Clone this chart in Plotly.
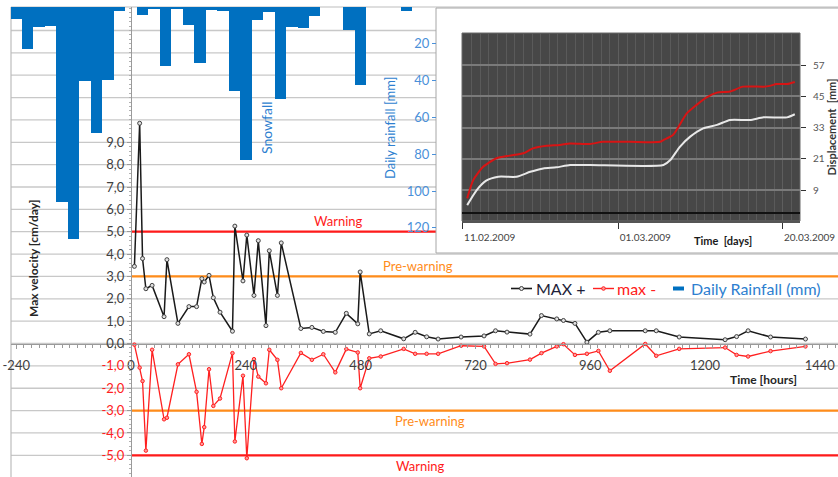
import plotly.graph_objects as go

# ---------------- data ----------------
hours = [7, 18, 24, 31, 44, 69, 75, 98, 121, 137, 148, 153, 163, 172, 186, 212, 217, 234, 242, 257,
         266, 282, 289, 306, 314, 355, 378, 402, 427, 450, 474, 479, 498, 522, 570, 594, 618, 642, 690, 738,
         762, 786, 834, 858, 890, 904, 928, 953, 977, 1001, 1075, 1098, 1146, 1242, 1266, 1290, 1337, 1410]
max_plus = [3.45, 9.85, 3.8, 2.45, 2.6, 1.2, 3.75, 0.9, 1.65, 1.65, 2.9, 2.75, 3.05, 2.05, 1.4, 0.55, 5.25, 2.8, 4.85, 2.15,
            4.6, 0.8, 4.15, 2.15, 4.5, 0.67, 0.72, 0.54, 0.5, 1.35, 0.88, 3.2, 0.43, 0.57, 0.21, 0.5, 0.3, 0.2, 0.29, 0.34,
            0.57, 0.51, 0.42, 1.25, 1.1, 1.03, 0.9, 0.06, 0.5, 0.57, 0.57, 0.57, 0.29, 0.17, 0.31, 0.57, 0.29, 0.2]
max_minus = [-0.05, -1.08, -1.68, -4.79, -0.28, -3.39, -3.32, -0.93, -0.48, -2.16, -4.49, -3.74, -1.15, -2.79, -2.46, -0.43, -4.38, -1.44, -5.13, -0.7,
             -1.48, -1.78, -0.28, -0.73, -2.0, -0.42, -0.73, -0.48, -1.29, -0.25, -0.4, -2.0, -0.66, -0.58, -0.24, -0.46, -0.46, -0.46, -0.1, -0.13,
             -0.91, -0.88, -0.72, -0.43, -0.13, -0.03, -0.51, -0.46, -0.33, -1.22, -0.02, -0.55, -0.24, -0.18, -0.51, -0.58, -0.34, -0.13]

rain_hours = [-240, -216, -192, -168, -144, -120, -96, -72, -48, -24, 0, 24, 48, 72, 96, 120, 144, 168, 192,
              216, 240, 264, 288, 312, 336, 360, 384, 408, 432, 456, 480, 504, 528, 552, 576, 600, 624]
rain_mm = [6.4, 22.8, 11.1, 10.5, 106, 126, 40.4, 68.5, 39.9, 2.0, 0, 4.2, 1.0, 31.8, 1.0, 9.6, 30.5, 1.8, 2.4,
           45.5, 83, 6.9, 2.9, 49.9, 11.1, 11.4, 4.7, 0, 0, 12.3, 42.6, 0, 0, 0, 2.0, 0, 0]

x_tickvals = [-240, 0, 240, 480, 720, 960, 1200, 1440]
vel_ticks = [-5, -4, -3, -2, -1, 0, 1, 2, 3, 4, 5, 6, 7, 8, 9]
rain_ticks = [20, 40, 60, 80, 100, 120]
grid_levels = list(range(-6, 15))

warning_level = 5.0
prewarning_level = 3.0

# inset (displacement)
days_red = [0.5, 1.2, 2.35, 3.9, 5.4, 7.0, 8.1, 9.7, 11.2, 12.4, 14.7, 16.2, 19.3, 22.8, 23.2, 24.3, 25.9, 27.0,
            28.2, 29.4, 30.9, 32.4, 34.8, 35.5, 36.3, 37.5, 38.4]
disp_red = [5.8, 12.8, 17.9, 21.2, 22.2, 23.1, 25.0, 26.0, 26.3, 26.9, 26.7, 27.5, 27.5, 27.5, 28.2, 30.1, 38.4, 41.6,
            44.6, 46.4, 46.8, 48.7, 48.7, 49.0, 49.7, 49.7, 50.5]
days_white = [0.5, 1.6, 2.7, 4.1, 6.2, 7.8, 9.3, 10.8, 12.4, 14.7, 23.2, 24.0, 25.1, 26.3, 27.8, 29.4, 30.9, 33.2,
              34.8, 37.5, 38.4]
disp_white = [3.2, 9.0, 12.6, 14.1, 14.1, 16.0, 17.3, 17.7, 18.6, 18.6, 18.6, 20.5, 25.6, 29.5, 32.7, 34.0, 35.9, 35.9,
              36.9, 36.9, 38.1]
inset_tickvals = [0, 18, 37]
inset_ticktext = ["11.02.2009", "01.03.2009", "20.03.2009"]
disp_ticks = [9, 21, 33, 45, 57]

# ---------------- layout geometry (pixels) ----------------
W, H = 838, 477
ML, MT = 11, 7
PW, PH = W - ML, H - MT


def fx(px):
    return (px - ML) / PW


def fy(py):
    return (H - py) / PH


XR = [-251, 1478]
YR = [-5.97, 15.05]
Y2R = [255.4, 0]
x_axis_pos = (0 - YR[0]) / (YR[1] - YR[0])
y_axis_pos = (0 - XR[0]) / (XR[1] - XR[0])

FONT = "Lato"
RED = "#ff1a1a"
ORANGE = "#ff8c1a"
BLUE = "#0070c0"
LBLUE = "#4a90d9"
TXTBLUE = "#2e7fd0"

fig = go.Figure()

# rainfall bars
fig.add_trace(go.Bar(x=rain_hours, y=rain_mm, width=24, marker=dict(color=BLUE, line=dict(width=0)),
                     xaxis="x", yaxis="y2", showlegend=False, name="Daily Rainfall (mm)"))

# velocity series
fig.add_trace(go.Scatter(x=hours, y=max_plus, mode="lines+markers", name="MAX +",
                         line=dict(color="#1a1a1a", width=1.5),
                         marker=dict(symbol="circle", size=4, color="#e0e0e0", line=dict(color="#404040", width=1)),
                         xaxis="x", yaxis="y", showlegend=False))
fig.add_trace(go.Scatter(x=hours, y=max_minus, mode="lines+markers", name="max -",
                         line=dict(color="#ff2020", width=1.3),
                         marker=dict(symbol="circle", size=3.5, color="#ff9a9a", line=dict(color="#ff2020", width=1)),
                         xaxis="x", yaxis="y", showlegend=False))

# inset curves
fig.add_trace(go.Scatter(x=days_red, y=disp_red, mode="lines", line=dict(color="#d81414", width=2, shape="spline", smoothing=0.6),
                         xaxis="x3", yaxis="y3", showlegend=False))
fig.add_trace(go.Scatter(x=days_white, y=disp_white, mode="lines", line=dict(color="#e8e8e8", width=2, shape="spline", smoothing=0.6),
                         xaxis="x3", yaxis="y3", showlegend=False))

shapes = []
# horizontal grid
for g in grid_levels:
    shapes.append(dict(type="line", xref="paper", yref="y", x0=0, x1=1, y0=g, y1=g,
                       line=dict(color="#c8c8c8", width=1.3), layer="below"))
# plot border (left & top)
shapes.append(dict(type="line", xref="paper", yref="paper", x0=0, x1=0, y0=0, y1=1,
                   line=dict(color="#bdbdbd", width=1.2), layer="below"))
shapes.append(dict(type="line", xref="paper", yref="paper", x0=0, x1=1, y0=1, y1=1,
                   line=dict(color="#bdbdbd", width=1.2), layer="below"))
# thresholds
for lvl, col in [(warning_level, RED), (prewarning_level, ORANGE), (-prewarning_level, ORANGE), (-warning_level, RED)]:
    shapes.append(dict(type="line", xref="paper", yref="y", x0=y_axis_pos, x1=1, y0=lvl, y1=lvl,
                       line=dict(color=col, width=2.2), layer="below"))
# inset white box
shapes.append(dict(type="rect", xref="paper", yref="paper", x0=fx(436), x1=fx(845), y0=fy(253), y1=fy(8),
                   fillcolor="white", line=dict(color="#a6a6a6", width=1), layer="below"))
# inset dark plot area
shapes.append(dict(type="rect", xref="paper", yref="paper", x0=fx(462), x1=fx(800), y0=fy(221), y1=fy(33),
                   fillcolor="#474747", line=dict(color="#6a6a6a", width=1), layer="below"))

# manual legend symbols
LEG_Y = fy(288.5)
shapes.append(dict(type="line", xref="paper", yref="paper", x0=fx(511), x1=fx(532), y0=LEG_Y, y1=LEG_Y,
                   line=dict(color="#1a1a1a", width=1.6), layer="above"))
shapes.append(dict(type="circle", xref="paper", yref="paper", xsizemode="pixel", ysizemode="pixel",
                   xanchor=fx(521.5), yanchor=LEG_Y, x0=-2, x1=2, y0=-2, y1=2,
                   fillcolor="#e0e0e0", line=dict(color="#404040", width=1), layer="above"))
shapes.append(dict(type="line", xref="paper", yref="paper", x0=fx(593), x1=fx(614), y0=LEG_Y, y1=LEG_Y,
                   line=dict(color="#ff2020", width=1.4), layer="above"))
shapes.append(dict(type="circle", xref="paper", yref="paper", xsizemode="pixel", ysizemode="pixel",
                   xanchor=fx(603.5), yanchor=LEG_Y, x0=-1.8, x1=1.8, y0=-1.8, y1=1.8,
                   fillcolor="#ff9a9a", line=dict(color="#ff2020", width=1), layer="above"))
shapes.append(dict(type="line", xref="paper", yref="paper", x0=fx(673), x1=fx(684), y0=LEG_Y, y1=LEG_Y,
                   line=dict(color=BLUE, width=4), layer="above"))

vel_ticktext = []
for v in vel_ticks:
    s = f"{v},0"
    if v < 0:
        vel_ticktext.append(f"<span style='color:#ff2020'>{s}</span>")
    else:
        vel_ticktext.append(s)

annotations = [
    dict(text="<b>Max velocity [cm/day]</b>", x=fx(33), y=fy(258), textangle=-90, font=dict(size=12, color="#262626")),
    dict(text="Daily rainfall [mm]", x=fx(390), y=fy(128), textangle=-90, font=dict(size=13, color=TXTBLUE)),
    dict(text="Snowfall", x=fx(267), y=fy(128), textangle=-90, font=dict(size=14, color=TXTBLUE)),
    dict(text="Warning", x=fx(338), y=fy(221), font=dict(size=13, color=RED)),
    dict(text="Pre-warning", x=fx(418), y=fy(266), font=dict(size=13, color=ORANGE)),
    dict(text="Pre-warning", x=fx(430), y=fy(421), font=dict(size=13, color=ORANGE)),
    dict(text="Warning", x=fx(420), y=fy(466), font=dict(size=13, color=RED)),
    dict(text="<b>Time [hours]</b>", x=fx(763), y=fy(379), font=dict(size=12, color="#262626")),
    dict(text="<b>Time  [days]</b>", x=fx(723), y=fy(240), font=dict(size=11, color="#1a1a1a")),
    dict(text="MAX +", x=fx(534), y=LEG_Y, xanchor="left", font=dict(size=16, color="#1f1f3a")),
    dict(text="max -", x=fx(615), y=LEG_Y, xanchor="left", font=dict(size=16, color="#ff2020")),
    dict(text="Daily Rainfall (mm)", x=fx(689), y=LEG_Y, xanchor="left", font=dict(size=16, color=TXTBLUE)),
]
for a in annotations:
    a.setdefault("xanchor", "center")
    a.update(xref="paper", yref="paper", showarrow=False, yanchor="middle")

fig.update_layout(
    width=W, height=H,
    margin=dict(l=ML, r=0, t=MT, b=0, autoexpand=False),
    paper_bgcolor="white", plot_bgcolor="rgba(0,0,0,0)",
    font=dict(family=FONT, size=13, color="#404040"),
    bargap=0,
    showlegend=False,
    shapes=shapes,
    annotations=annotations,
    xaxis=dict(range=XR, anchor="free", position=x_axis_pos, showgrid=False, zeroline=False, automargin=False,
               showline=True, linecolor="#9a9a9a", linewidth=1.2,
               tickmode="array", tickvals=x_tickvals, ticktext=[str(v) for v in x_tickvals],
               ticks="outside", ticklen=4, tickcolor="#9a9a9a", ticklabelstandoff=6,
               tickfont=dict(size=13, color="#404040"),
               minor=dict(dtick=16, tick0=-240, ticks="outside", ticklen=3, tickcolor="#9a9a9a", showgrid=False)),
    yaxis=dict(range=YR, anchor="free", position=y_axis_pos, showgrid=False, zeroline=False, automargin=False,
               showline=True, linecolor="#9a9a9a", linewidth=1.2,
               tickmode="array", tickvals=vel_ticks, ticktext=vel_ticktext,
               ticks="outside", ticklen=4, tickcolor="#9a9a9a",
               tickfont=dict(size=13, color="#404040"),
               minor=dict(dtick=0.2, ticks="outside", ticklen=2, tickcolor="#b0b0b0", showgrid=False)),
    yaxis2=dict(range=Y2R, overlaying="y", anchor="free", position=fx(436), side="left", automargin=False,
                showgrid=False, zeroline=False, showline=False,
                tickmode="array", tickvals=rain_ticks, ticks="outside", ticklen=4, tickcolor=LBLUE,
                tickfont=dict(size=13, color=LBLUE)),
    xaxis3=dict(domain=[fx(462), fx(800)], anchor="y3", range=[-0.1, 39], automargin=False,
                tickmode="array", tickvals=inset_tickvals, ticktext=inset_ticktext,
                ticklabelposition="outside right", ticks="outside", ticklen=6, tickcolor="#333",
                ticklabelstandoff=6,
                tickfont=dict(size=10, color="#444"),
                showgrid=True, gridcolor="#5e5e5e", gridwidth=1, zeroline=False,
                showline=True, linecolor="#555", linewidth=1.5,
                minor=dict(dtick=1, tick0=0, showgrid=True, gridcolor="#5a5a5a", gridwidth=1)),
    yaxis3=dict(domain=[fy(221), fy(33)], anchor="x3", side="right", range=[-2.9, 69.3], automargin=False,
                tickmode="array", tickvals=disp_ticks, ticks="outside", ticklen=5, tickcolor="#333",
                ticklabelstandoff=5,
                tickfont=dict(size=10, color="#555"),
                showgrid=True, gridcolor="#7a7a7a", gridwidth=1.5,
                zeroline=True, zerolinecolor="#111", zerolinewidth=1.5,
                title=dict(text="<b>Displacement  [mm]</b>", font=dict(size=11, color="#333"), standoff=3)),
)

fig.write_html("out.html", config={"displayModeBar": False},
               post_script="document.body.style.margin='0px';")
